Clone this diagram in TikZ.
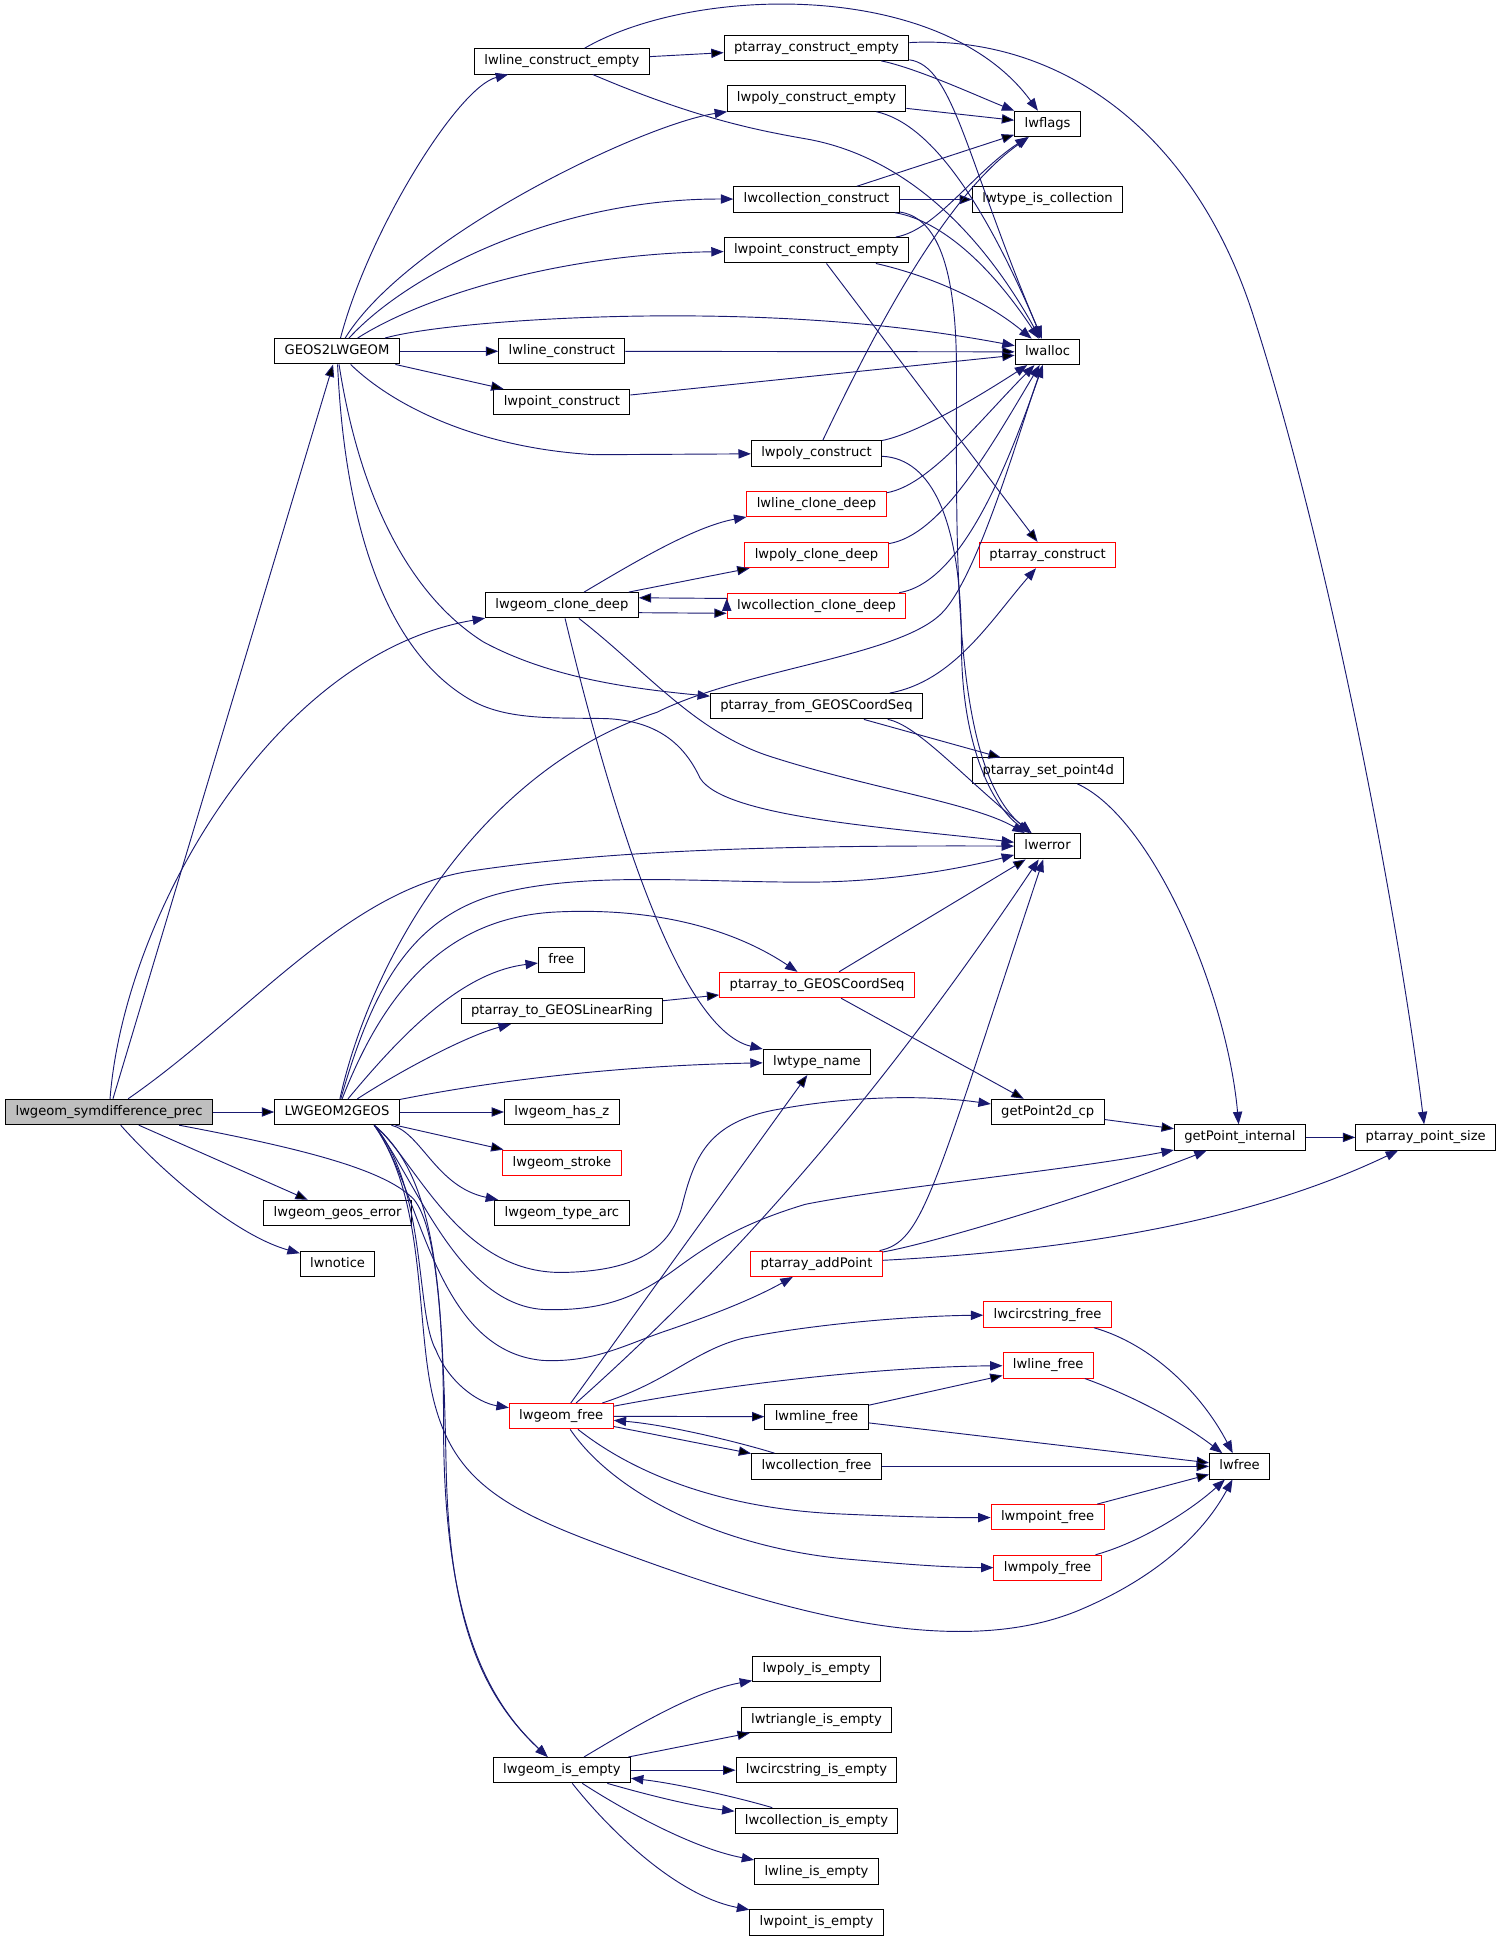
\documentclass[tikz,border=0pt]{standalone}
\usepackage{fontspec}
\setmainfont{DejaVu Sans}
\usetikzlibrary{arrows.meta}
\definecolor{midnight}{HTML}{191970}

\begin{document}
\begin{tikzpicture}[x=1pt,y=-1pt,>={Triangle[length=10pt,width=7.5pt]},
  fn/.style={draw=black,fill=white,line width=0.8pt,font=\fontsize{10.6}{12}\selectfont,
             inner xsep=8pt,inner ysep=0pt,minimum height=20.5pt,text height=8pt,text depth=2.4pt},
  fnred/.style={fn,draw=red},
  fnroot/.style={fn,fill=black!25},
  call/.style={->,draw=midnight,line width=0.75pt}]
\useasboundingbox (0,0) rectangle (1213,1566.6);

% callers
\node[fnroot] (symdiff) at (88,897.5) {lwgeom\_symdifference\_prec};
\node[fn] (geos2lw) at (272,283.5) {GEOS2LWGEOM};
\node[fn] (lw2geos) at (272,897.5) {LWGEOM2GEOS};
\node[fn] (geoserr) at (272.5,979) {lwgeom\_geos\_error};
\node[fn] (notice) at (272.5,1020) {lwnotice};

\node[fn] (lineempty) at (453.5,49.5) {lwline\_construct\_empty};
\node[fn] (linecons) at (453.5,283.5) {lwline\_construct};
\node[fn] (pointcons) at (453.5,324.5) {lwpoint\_construct};
\node[fn] (geomclone) at (453.5,488.5) {lwgeom\_clone\_deep};
\node[fn] (free) at (453,775) {free};
\node[fn] (tolinring) at (453.5,816) {ptarray\_to\_GEOSLinearRing};
\node[fn] (hasz) at (453.5,897.5) {lwgeom\_has\_z};
\node[fnred] (stroke) at (453.5,938.5) {lwgeom\_stroke};
\node[fn] (typearc) at (453.5,979) {lwgeom\_type\_arc};
\node[fnred] (geomfree) at (453,1143) {lwgeom\_free};
\node[fn] (geomempty) at (453.5,1428.7) {lwgeom\_is\_empty};

\node[fn] (ptempty) at (659,38.5) {ptarray\_construct\_empty};
\node[fn] (polyempty) at (659,79.5) {lwpoly\_construct\_empty};
\node[fn] (collcons) at (659,161) {lwcollection\_construct};
\node[fn] (pointempty) at (659,202) {lwpoint\_construct\_empty};
\node[fn] (polycons) at (659,366) {lwpoly\_construct};
\node[fnred] (lineclone) at (659,407) {lwline\_clone\_deep};
\node[fnred] (polyclone) at (659,448) {lwpoly\_clone\_deep};
\node[fnred] (collclone) at (659,489) {lwcollection\_clone\_deep};
\node[fn] (fromseq) at (659,570) {ptarray\_from\_GEOSCoordSeq};
\node[fnred] (toseq) at (659.5,795) {ptarray\_to\_GEOSCoordSeq};
\node[fn] (typename) at (659.3,857) {lwtype\_name};
\node[fnred] (addpoint) at (659,1020) {ptarray\_addPoint};
\node[fn] (mlinefree) at (659,1143.5) {lwmline\_free};
\node[fn] (collfree) at (659,1183.5) {lwcollection\_free};
\node[fn] (polyisempty) at (659,1347) {lwpoly\_is\_empty};
\node[fn] (triisempty) at (659,1388) {lwtriangle\_is\_empty};
\node[fn] (circisempty) at (659,1428.7) {lwcircstring\_is\_empty};
\node[fn] (collisempty) at (659,1469.6) {lwcollection\_is\_empty};
\node[fn] (lineisempty) at (659,1510.6) {lwline\_is\_empty};
\node[fn] (pointisempty) at (659,1551.6) {lwpoint\_is\_empty};

\node[fn] (lwflags) at (845.5,100) {lwflags};
\node[fn] (iscoll) at (845.5,161) {lwtype\_is\_collection};
\node[fn] (lwalloc) at (845.5,284) {lwalloc};
\node[fnred] (ptcons) at (845.5,448) {ptarray\_construct};
\node[fn] (setpt) at (846,622) {ptarray\_set\_point4d};
\node[fn] (lwerror) at (845.5,683) {lwerror};
\node[fn] (getpt2d) at (845.6,897.5) {getPoint2d\_cp};
\node[fnred] (circfree) at (845.5,1061) {lwcircstring\_free};
\node[fnred] (linefree) at (846,1102) {lwline\_free};
\node[fnred] (mpointfree) at (845.5,1224.6) {lwmpoint\_free};
\node[fnred] (mpolyfree) at (845.5,1265.5) {lwmpoly\_free};

\node[fn] (gpint) at (1000.7,918) {getPoint\_internal};
\node[fn] (lwfree) at (1000.5,1183.5) {lwfree};
\node[fn] (ptsize) at (1150.7,918) {ptarray\_point\_size};

% straight calls
\path[call]
(symdiff) edge (geos2lw)
(symdiff) edge (lw2geos)
(symdiff) edge (geoserr)
(geos2lw) edge (linecons)
(geos2lw) edge (pointcons)
(lineempty) edge (ptempty)
(polyempty) edge (lwflags)
(collcons) edge (lwflags)
(collcons) edge (iscoll)
(pointempty) edge (ptcons)
(linecons) edge (lwalloc)
(pointcons) edge (lwalloc)
(geomclone) edge (polyclone)
([yshift=-6pt]geomclone.east) edge ([yshift=-6pt]collclone.west)
([yshift=6pt]collclone.west) edge ([yshift=6pt]geomclone.east)
(fromseq) edge (setpt)
(toseq) edge (lwerror)
(toseq) edge (getpt2d)
(tolinring) edge (toseq)
(getpt2d) edge (gpint)
(gpint) edge (ptsize)
(lw2geos) edge (hasz)
(lw2geos) edge (stroke)
(geomfree) edge (typename)
(geomfree) edge (mlinefree)
(geomfree) edge (collfree)
(mlinefree) edge (linefree)
(mlinefree) edge (lwfree)
(collfree) edge (lwfree)
(mpointfree) edge (lwfree)
(geomempty) edge (triisempty)
(geomempty) edge (circisempty)
; %end path

% lwgeom_symdifference_prec
\draw[call] (symdiff) .. controls (100,740) and (220,528) .. (geomclone);
\draw[call] (symdiff) .. controls (200,820) and (280,718) .. (380,703) .. controls (480,688) and (600,682) .. (lwerror);
\draw[call] (symdiff) .. controls (130,945) and (190,997) .. (notice);
\draw[call] (symdiff) .. controls (250,928) and (312,945) .. (334,968) .. controls (354,992) and (358,1080) .. (360,1180) .. controls (362,1300) and (385,1365) .. (geomempty);

% GEOS2LWGEOM
\draw[call] (geos2lw) .. controls (298,185) and (370,70) .. (lineempty);
\draw[call] (geos2lw) .. controls (330,190) and (520,100) .. (polyempty);
\draw[call] (geos2lw) .. controls (330,220) and (450,160) .. (collcons);
\draw[call] (geos2lw) .. controls (340,240) and (450,205) .. (pointempty);
\draw[call] (geos2lw) .. controls (350,262) and (460,254) .. (560,255) .. controls (680,256) and (760,268) .. (lwalloc);
\draw[call] (geos2lw) .. controls (320,330) and (390,362) .. (480,367) -- (polycons);
\draw[call] (geos2lw) .. controls (290,400) and (330,480) .. (390,518) .. controls (440,545) and (500,555) .. (fromseq);
\draw[call] (geos2lw) .. controls (278,420) and (310,525) .. (380,565) .. controls (410,582) and (450,579) .. (490,580) .. controls (530,582) and (552,600) .. (565,628) .. controls (585,660) and (720,668) .. (lwerror);

% constructors
\draw[call] (lineempty) .. controls (560,-12) and (760,-17) .. (lwflags);
\draw[call] (lineempty) .. controls (560,95) and (610,105) .. (650,112) .. controls (720,124) and (785,175) .. (lwalloc);
\draw[call] (ptempty) .. controls (740,55) and (790,78) .. (lwflags);
\draw[call] (ptempty) .. controls (770,53) and (780,130) .. (lwalloc);
\draw[call] (ptempty) .. controls (850,28) and (960,100) .. (1010,250) .. controls (1075,450) and (1130,750) .. (ptsize);
\draw[call] (polyempty) .. controls (752,100) and (795,165) .. (lwalloc);
\draw[call] (collcons) .. controls (760,178) and (800,215) .. (lwalloc);
\draw[call] (collcons) .. controls (752,175) and (772,205) .. (772,300) .. controls (772,450) and (768,620) .. (lwerror);
\draw[call] (pointempty) .. controls (755,186) and (785,140) .. (lwflags);
\draw[call] (pointempty) .. controls (740,220) and (790,238) .. (lwalloc);
\draw[call] (polycons) .. controls (740,350) and (790,320) .. (lwalloc);
\draw[call] (polycons) .. controls (700,280) and (760,160) .. (lwflags);
\draw[call] (polycons) .. controls (752,370) and (776,420) .. (776,520) .. controls (776,600) and (800,650) .. (lwerror);

% clones
\draw[call] (lineclone) .. controls (750,392) and (790,340) .. (lwalloc);
\draw[call] (polyclone) .. controls (760,432) and (800,360) .. (lwalloc);
\draw[call] (collclone) .. controls (778,470) and (815,370) .. (lwalloc);
\draw[call] (geomclone) .. controls (510,455) and (560,425) .. (lineclone);
\draw[call] (geomclone) .. controls (520,540) and (560,590) .. (620,610) .. controls (700,636) and (785,648) .. (lwerror);
\draw[call] (geomclone) .. controls (490,640) and (545,830) .. (typename);

% point arrays
\draw[call] (fromseq) .. controls (770,550) and (800,500) .. (ptcons);
\draw[call] (fromseq) .. controls (740,585) and (775,625) .. (lwerror);
\draw[call] (setpt) .. controls (930,660) and (990,800) .. (gpint);
\draw[call] (addpoint) .. controls (760,1002) and (900,958) .. (gpint);
\draw[call] (addpoint) .. controls (850,1010) and (1000,990) .. (ptsize);
\draw[call] (addpoint) .. controls (745,1002) and (752,965) .. (lwerror);

% LWGEOM2GEOS
\draw[call] (lw2geos) .. controls (300,770) and (390,620) .. (530,575) .. controls (600,540) and (725,530) .. (760,495) .. controls (790,465) and (825,340) .. (lwalloc);
\draw[call] (lw2geos) .. controls (300,800) and (330,742) .. (400,722) .. controls (470,703) and (560,712) .. (650,712) .. controls (720,712) and (780,700) .. (lwerror);
\draw[call] (lw2geos) .. controls (310,800) and (360,740) .. (450,736) .. controls (540,732) and (600,755) .. (toseq);
\draw[call] (lw2geos) .. controls (320,840) and (370,785) .. (free);
\draw[call] (lw2geos) .. controls (330,860) and (380,835) .. (tolinring);
\draw[call] (lw2geos) .. controls (400,872) and (500,860) .. (typename);
\draw[call] (lw2geos) .. controls (340,914) and (352,958) .. (typearc);
\draw[call] ([xshift=30pt]lw2geos.south) .. controls (335,935) and (370,1028) .. (454,1027) .. controls (510,1026) and (540,1010) .. (550,975) .. controls (560,935) and (570,905) .. (630,895) .. controls (690,884) and (750,884) .. (getpt2d);
\draw[call] ([xshift=30pt]lw2geos.south) .. controls (335,950) and (370,1055) .. (441,1057) .. controls (490,1058) and (515,1045) .. (540,1028) .. controls (565,1010) and (590,990) .. (650,972) .. controls (720,958) and (860,945) .. (gpint);
\draw[call] ([xshift=30pt]lw2geos.south) .. controls (340,960) and (350,1090) .. (438,1098) .. controls (480,1100) and (505,1085) .. (538,1074) .. controls (570,1063) and (605,1050) .. (addpoint);
\draw[call] ([xshift=30pt]lw2geos.south) .. controls (345,960) and (335,1060) .. (352,1090) .. controls (362,1115) and (385,1132) .. (geomfree);
\draw[call] ([xshift=30pt]lw2geos.south) .. controls (345,970) and (335,1070) .. (350,1130) .. controls (365,1190) and (400,1215) .. (480,1245) .. controls (600,1290) and (760,1345) .. (870,1300) .. controls (930,1275) and (970,1240) .. (lwfree);
\draw[call] ([xshift=30pt]lw2geos.south) .. controls (340,940) and (358,1000) .. (358,1150) .. controls (358,1290) and (385,1365) .. (geomempty);

% lwgeom_free
\draw[call] (geomfree) .. controls (580,1030) and (700,900) .. (lwerror);
\draw[call] (geomfree) .. controls (540,1115) and (560,1090) .. (600,1080) .. controls (660,1068) and (740,1062) .. (circfree);
\draw[call] (geomfree) .. controls (600,1115) and (720,1103) .. (linefree);
\draw[call] (collfree) .. controls (600,1165) and (540,1150) .. (geomfree);
\draw[call] (geomfree) .. controls (510,1188) and (580,1218) .. (680,1222) .. controls (725,1224) and (760,1225) .. (mpointfree);
\draw[call] (geomfree) .. controls (495,1205) and (580,1248) .. (680,1258) .. controls (725,1262) and (760,1265) .. (mpolyfree);
\draw[call] (circfree) .. controls (930,1085) and (970,1125) .. (lwfree);
\draw[call] (linefree) .. controls (910,1125) and (950,1145) .. (lwfree);
\draw[call] (mpolyfree) .. controls (920,1245) and (960,1220) .. (lwfree);

% lwgeom_is_empty
\draw[call] (geomempty) .. controls (510,1395) and (560,1365) .. (polyisempty);
\draw[call] (geomempty) .. controls (520,1448) and (560,1458) .. (collisempty);
\draw[call] (collisempty) .. controls (600,1452) and (550,1440) .. (geomempty);
\draw[call] (geomempty) .. controls (505,1462) and (560,1492) .. (lineisempty);
\draw[call] (geomempty) .. controls (490,1475) and (545,1530) .. (pointisempty);
\end{tikzpicture}
\end{document}
